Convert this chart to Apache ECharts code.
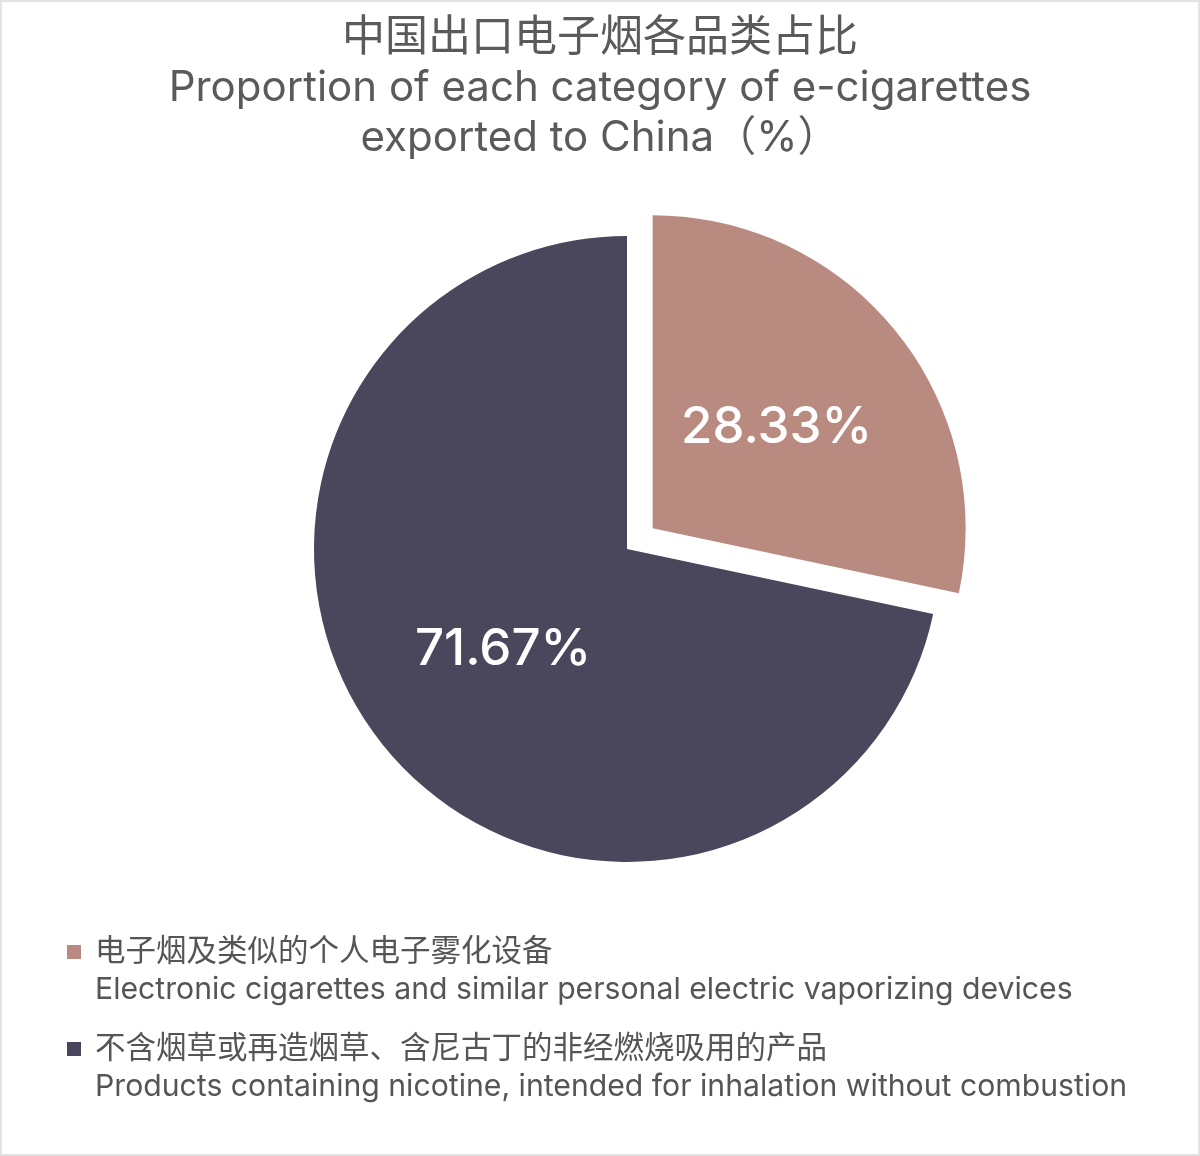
<!DOCTYPE html>
<html>
<head>
<meta charset="utf-8">
<script src="https://cdn.jsdelivr.net/npm/echarts@6/dist/echarts.min.js"></script>
<style>
html,body{margin:0;padding:0;background:#fff;}
#c{width:1200px;height:1156px;}
</style>
</head>
<body>
<div id="c"></div>
<script>
const titleCn = '中国出口电子烟各品类占比';
const titleEn = ['Proportion of each category of e-cigarettes', 'exported to China（%）'];
const categoriesCn = ['电子烟及类似的个人电子雾化设备', '不含烟草或再造烟草、含尼古丁的非经燃烧吸用的产品'];
const categoriesEn = ['Electronic cigarettes and similar personal electric vaporizing devices', 'Products containing nicotine, intended for inhalation without combustion'];
const shares = [28.33, 71.67];
const colors = ['#B98A80', '#4A465B'];

const font = 'Inter, "Noto Sans CJK SC", sans-serif';
const chart = echarts.init(document.getElementById('c'), null, {renderer: 'canvas'});

const data = categoriesCn.map((n, i) => ({
  name: n,
  value: shares[i],
  selected: i === 0,
  itemStyle: {color: colors[i]}
}));

const legendRich = {
  blank: {height: 38, lineHeight: 38, fontSize: 26},
  cn: {fontSize: 30.5, lineHeight: 38, color: '#555', fontFamily: font, padding: [0,0,0,9]},
  en: {fontSize: 30.2, lineHeight: 38, color: '#555', fontFamily: font, padding: [0,0,0,9]}
};
function legendFor(i, top) {
  return {
    data: [categoriesCn[i]],
    left: 62,
    top: top,
    orient: 'vertical',
    icon: 'rect',
    itemWidth: 14,
    itemHeight: 14,
    selectedMode: false,
    formatter: (name) => '{blank|}\n{cn|' + name + '}\n{en|' + categoriesEn[i] + '}',
    textStyle: {rich: legendRich, fontFamily: font}
  };
}

chart.setOption({
  backgroundColor: '#fff',
  animation: false,
  graphic: [{
    type: 'rect',
    shape: {x: 1, y: 1, width: 1198, height: 1154},
    style: {fill: 'none', stroke: '#e2e2e2', lineWidth: 2},
    silent: true
  }],
  title: {
    text: '{cn|' + titleCn + '}\n' + titleEn.map(t => '{en|' + t + '}').join('\n'),
    left: 'center',
    top: 8,
    textStyle: {
      fontFamily: font,
      fontWeight: 'normal',
      rich: {
        cn: {fontSize: 43, lineHeight: 50, color: '#5a5a5a', fontFamily: font, fontWeight: 'normal'},
        en: {fontSize: 42, lineHeight: 50, color: '#5a5a5a', fontFamily: font, fontWeight: 'normal'}
      }
    }
  },
  legend: [legendFor(0, 890), legendFor(1, 987)],
  series: [{
    type: 'pie',
    center: [627, 549],
    radius: 313,
    startAngle: 90,
    clockwise: true,
    selectedMode: 'single',
    selectedOffset: 33,
    avoidLabelOverlap: false,
    label: {
      show: true,
      position: 'inside',
      formatter: (p) => p.value.toFixed(2) + '%',
      color: '#fff',
      fontSize: 51,
      fontWeight: 500,
      fontFamily: font
    },
    labelLine: {show: false},
    emphasis: {disabled: true},
    data: data
  }]
});
</script>
</body>
</html>
